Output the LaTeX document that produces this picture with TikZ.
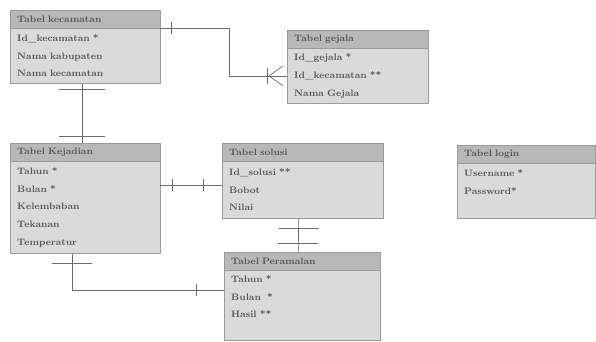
\documentclass[tikz,border=0pt]{standalone}
\usepackage{tikz}
\usetikzlibrary{positioning}
\definecolor{headgray}{HTML}{B8B8B8}
\definecolor{bodygray}{HTML}{DADADA}
\definecolor{edgegray}{HTML}{9A9A9A}
\definecolor{textgray}{HTML}{555555}
\definecolor{linegray}{HTML}{6A6A6A}
\tikzset{
  tabhead/.style = {rectangle, draw=edgegray, fill=headgray, anchor=north west,
    inner xsep=0.21cm, inner ysep=0pt, minimum height=0.53cm,
    text width=#1, align=left, text=textgray, font=\footnotesize\bfseries},% kepala tabel
  tabbody/.style 2 args = {rectangle, draw=edgegray, fill=bodygray,
    inner xsep=0.21cm, inner ysep=2pt, text width=#1, minimum height=#2,
    align=left, text=textgray,
    font=\footnotesize\bfseries\setlength{\baselineskip}{15pt}},% isi tabel
  rel/.style = {draw=linegray, line width=0.6pt}% garis relasi
}

\begin{document}
\begin{tikzpicture}[x=0.03cm,y=-0.03cm]
\useasboundingbox (0,0) rectangle (596,342);

% tabel-tabel
\node [tabhead=4.08cm] (kechead) at (10,10) {Tabel kecamatan};
\node [tabbody={4.08cm}{1.65cm}, below=0pt of kechead] (kecbody)
  {Id\_kecamatan *\\Nama kabupaten\\Nama kecamatan};

\node [tabhead=3.81cm] (gejhead) at (287,30) {Tabel gejala};
\node [tabbody={3.81cm}{1.65cm}, below=0pt of gejhead] (gejbody)
  {Id\_gejala *\\Id\_kecamatan **\\Nama Gejala};

\node [tabhead=4.08cm] (kejhead) at (10,143) {Tabel  Kejadian};
\node [tabbody={4.08cm}{2.76cm}, below=0pt of kejhead] (kejbody)
  {Tahun *\\Bulan *\\Kelembaban\\Tekanan\\Temperatur};

\node [tabhead=4.41cm] (solhead) at (222,143) {Tabel solusi};
\node [tabbody={4.41cm}{1.71cm}, below=0pt of solhead] (solbody)
  {Id\_solusi **\\Bobot\\Nilai};

\node [tabhead=3.72cm] (loghead) at (457,145) {Tabel login};
\node [tabbody={3.72cm}{1.65cm}, below=0pt of loghead] (logbody)
  {Username *\\Password*\\~};

\node [tabhead=4.26cm] (perhead) at (224,252) {Tabel Peramalan};
\node [tabbody={4.26cm}{2.1cm}, below=0pt of perhead] (perbody)
  {Tahun *\\Bulan~ *\\Hasil **\\~};

% kecamatan -- gejala (satu ke banyak)
\coordinate (kgbend) at (229,0 |- gejbody.west);
\draw [rel] (kecbody.north east) -| (kgbend) -- (gejbody.west);
\draw [rel] ([xshift=0.33cm]kecbody.north east) ++(0,-6) -- ++(0,12);
\draw [rel] ([xshift=-0.6cm]gejbody.west) ++(0,-8) -- ++(0,16);
\draw [rel] ([xshift=-0.54cm]gejbody.west) -- ([xshift=-0.12cm,yshift=0.3cm]gejbody.west);
\draw [rel] ([xshift=-0.54cm]gejbody.west) -- ([xshift=-0.12cm,yshift=-0.3cm]gejbody.west);

% kecamatan -- kejadian
\draw [rel] ([xshift=-0.09cm]kecbody.south) -- ([xshift=-0.09cm]kejhead.north);
\draw [rel] ([xshift=-0.09cm,yshift=-0.18cm]kecbody.south) ++(-23,0) -- ++(46,0);
\draw [rel] ([xshift=-0.09cm,yshift=0.2cm]kejhead.north) ++(-23,0) -- ++(46,0);

% kejadian -- solusi
\draw [rel] ([yshift=0.15cm]kejbody.east |- solbody.west) -- ([yshift=0.15cm]solbody.west);
\draw [rel] ([xshift=0.36cm,yshift=0.15cm]kejbody.east |- solbody.west) ++(0,-6) -- ++(0,12);
\draw [rel] ([xshift=-0.57cm,yshift=0.15cm]solbody.west) ++(0,-6) -- ++(0,12);

% solusi -- peramalan
\draw [rel] ([xshift=-0.12cm]solbody.south) -- ([xshift=-0.12cm]perhead.north);
\draw [rel] ([xshift=-0.12cm,yshift=-0.3cm]solbody.south) ++(-20,0) -- ++(40,0);
\draw [rel] ([xshift=-0.12cm,yshift=0.27cm]perhead.north) ++(-20,0) -- ++(40,0);

% kejadian -- peramalan
\draw [rel] ([xshift=-0.39cm]kejbody.south) |- ([yshift=0.45cm]perbody.west);
\draw [rel] ([xshift=-0.39cm,yshift=-0.3cm]kejbody.south) ++(-20,0) -- ++(40,0);
\draw [rel] ([xshift=-0.84cm,yshift=0.45cm]perbody.west) ++(0,-6) -- ++(0,12);
\end{tikzpicture}
\end{document}
